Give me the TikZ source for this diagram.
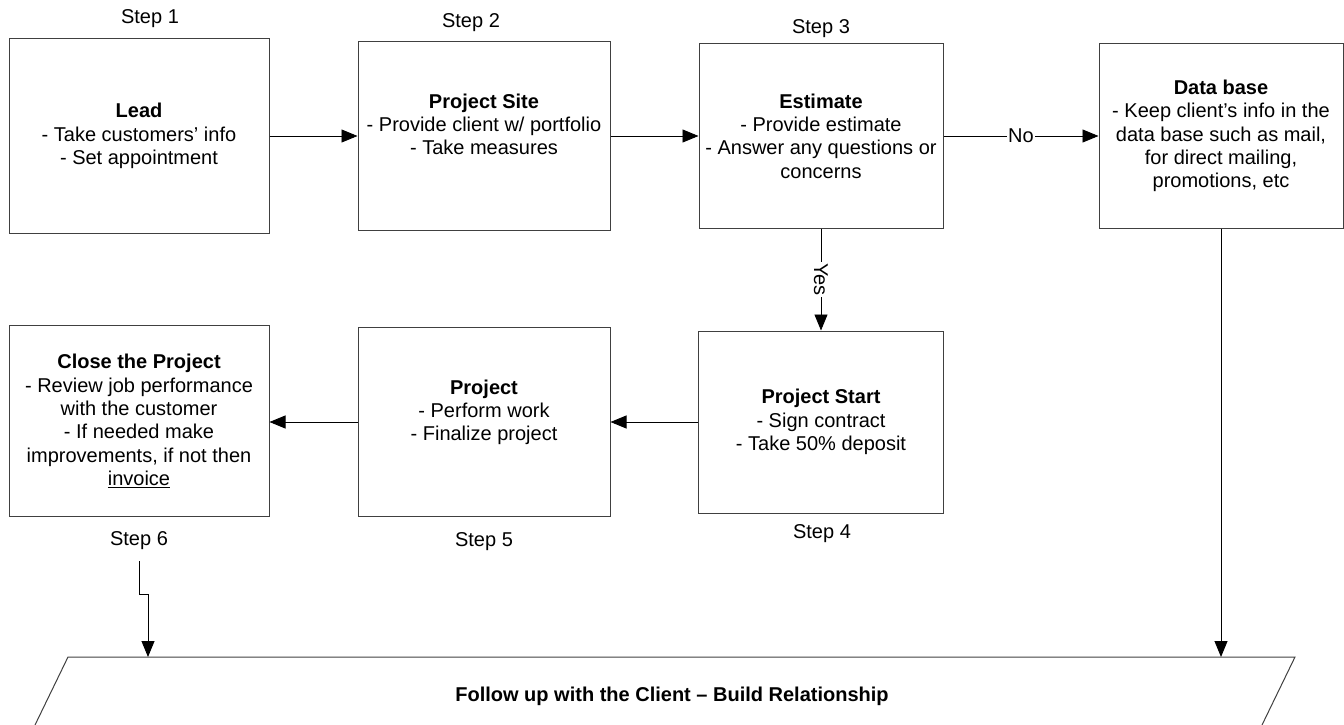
\documentclass[tikz,border=0pt]{standalone}
\usepackage{fontspec}
\setmainfont{Liberation Sans}
\usepackage{tikz}
\usetikzlibrary{arrows.meta, positioning, calc}
\tikzset{
  box/.style={draw=black!75, line width=1pt, align=center, inner sep=3pt},
  steplabel/.style={anchor=base, inner sep=0pt},
  arr/.style={-{Triangle[length=16pt,width=13pt]}, line width=0.9pt},
  answer/.style={fill=white, inner sep=1pt, midway},
}

\begin{document}
\begin{tikzpicture}[x=1pt, y=-1pt, font=\fontsize{20}{23.3}\selectfont]
    \useasboundingbox (0,0) rectangle (1344,725);

    % Top row
    \node[box, minimum width=260pt, minimum height=194pt] (lead) at (139,136)
        {\textbf{Lead}\\- Take customers’ info\\- Set appointment};
    \node[box, minimum width=252pt, minimum height=188pt] (site) at (484,136)
        {\textbf{Project Site}\\- Provide client w/ portfolio\\- Take measures\\\mbox{}};
    \node[box, minimum width=244pt, minimum height=184pt] (est) at (821,136)
        {\textbf{Estimate}\\- Provide estimate\\- Answer any questions or\\concerns};
    \node[box, minimum width=244pt, minimum height=184pt] (db) at (1221,136)
        {\textbf{Data base}\\- Keep client’s info in the\\data base such as mail,\\for direct mailing,\\promotions, etc};

    % Bottom row
    \node[box, minimum width=260pt, minimum height=191pt] (close) at (139,421)
        {\textbf{Close the Project}\\- Review job performance\\with the customer\\- If needed make\\improvements, if not then\\\underline{invoice}};
    \node[box, minimum width=252pt, minimum height=189pt] (proj) at (484,422)
        {\textbf{Project}\\- Perform work\\- Finalize project\\\mbox{}};
    \node[box, minimum width=245pt, minimum height=182pt] (start) at (821,422)
        {\textbf{Project Start}\\- Sign contract\\- Take 50\% deposit};

    % Steps
    \node[steplabel] (s1) at (150,24) {Step 1};
    \node[steplabel] (s2) at (471,28) {Step 2};
    \node[steplabel] (s3) at (821,34) {Step 3};
    \node[steplabel] (s4) at (822,538) {Step 4};
    \node[steplabel] (s5) at (484,546) {Step 5};
    \node[steplabel] (s6) at (139,545) {Step 6};

    % Follow up
    \coordinate (fu6) at (148,657);
    \coordinate (fudb) at (1222,657);
    \draw[draw=black!75, line width=1pt] (35,725) -- (68,657) -- (1295,657) -- (1262,725);
    \node (follow) at (672,696) {\textbf{Follow up with the Client – Build Relationship}};

    % Arrows
    \draw[arr] (lead) -- (site);
    \draw[arr] (site) -- (est);
    \draw[arr] (est) -- (db) node[answer] {No};
    \draw[arr] (est) -- (start) node[answer, rotate=-90] {Yes};
    \draw[arr] (start.west) -- (start.west -| proj.east);
    \draw[arr] (proj.west) -- (proj.west -| close.east);
    \draw[arr] (db.south) -- (db.south |- fudb);
    \draw[arr] ($(s6.base)+(0,16)$) -- ++(0,33) -| (fu6);
\end{tikzpicture}
\end{document}
